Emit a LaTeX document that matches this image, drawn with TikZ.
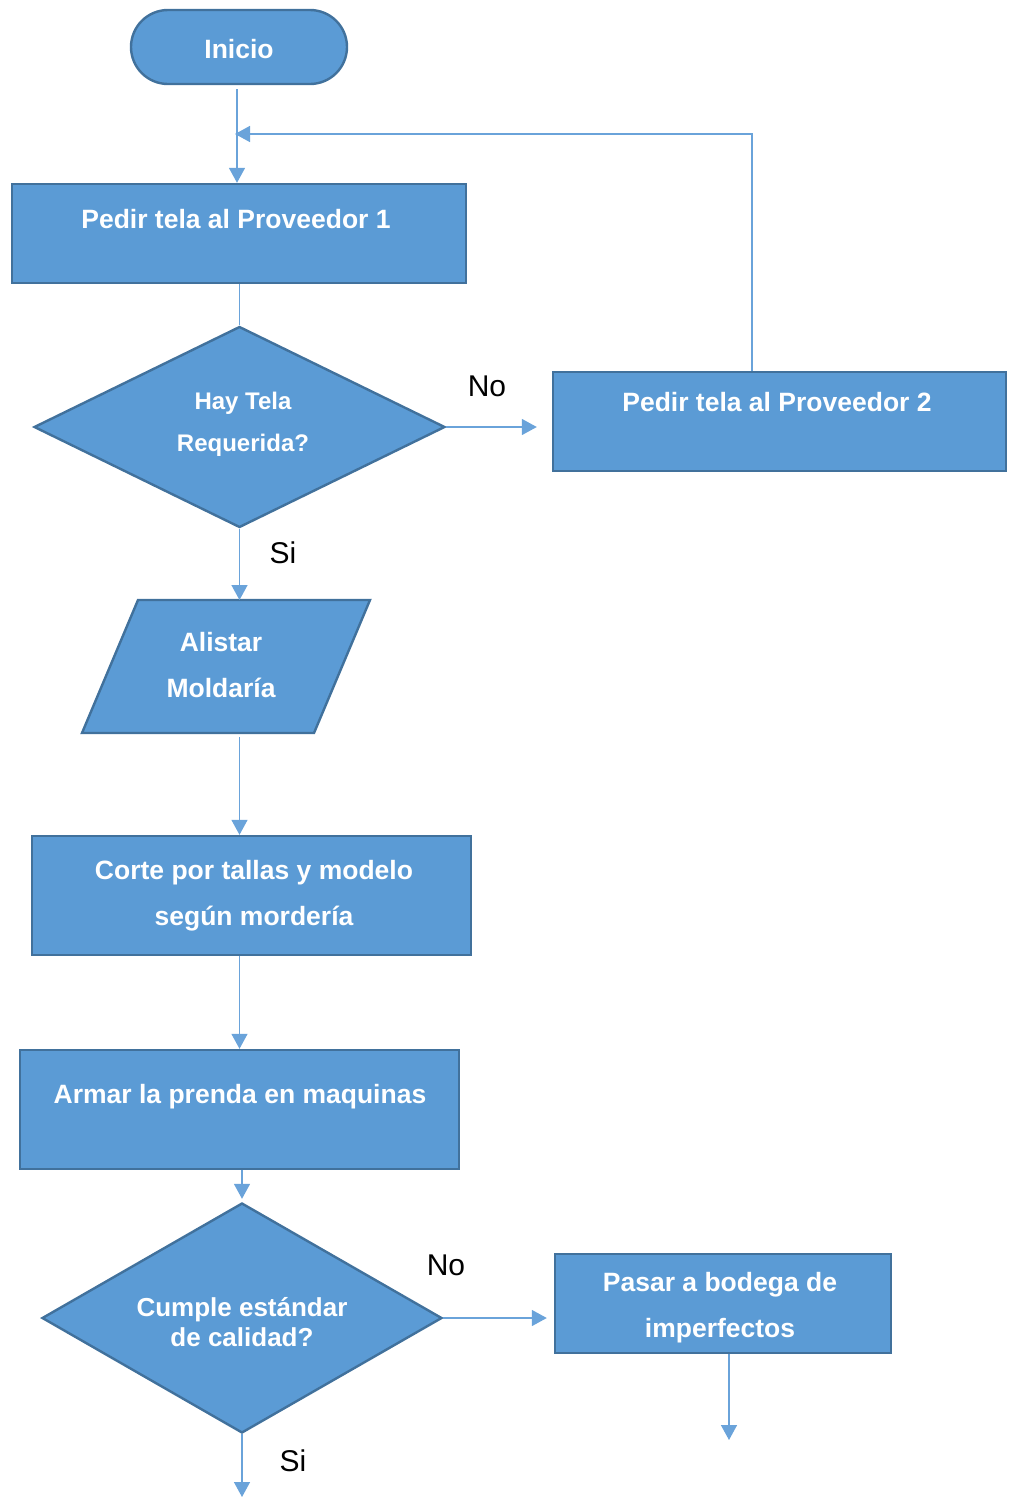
\documentclass[tikz,border=0pt]{standalone}
\usepackage{fontspec}
\setmainfont{Liberation Sans}
\usetikzlibrary{arrows.meta,shapes.geometric,positioning,calc}

\definecolor{fil}{RGB}{91,155,213}
\definecolor{bdr}{RGB}{65,113,156}
\definecolor{conn}{RGB}{106,163,218}

\begin{document}
\begin{tikzpicture}[x=1pt, y=-1pt,
    box/.style={draw=bdr, fill=fil, line width=2.4pt, inner sep=0pt},
    dec/.style={draw=bdr, fill=fil, line width=2.4pt, diamond, inner sep=0pt},
    txt/.style={text=white, align=center, font=\fontsize{26.5}{46}\selectfont\bfseries, inner sep=0pt},
    arr/.style={-{Triangle[length=15pt,width=16pt]}, draw=conn, line width=1.5pt},
    lin/.style={draw=conn, line width=1.5pt},
    lbl/.style={font=\fontsize{30}{30}\selectfont, inner sep=0pt}
]
\useasboundingbox (0,0) rectangle (1014,1497);

\node[box, rounded corners=37pt, minimum width=216pt, minimum height=74pt] (ini) at (239,47) {};
\node[txt] (init) at (239,49) {Inicio};
\node[box, minimum width=454pt, minimum height=99pt] (prov1) at (239,233.5) {};
\node[txt] (prov1t) at (236,219) {Pedir tela al Proveedor 1};
\node[dec, minimum width=411pt, minimum height=201pt] (dec1) at (239.5,427) {};
\node[txt, font=\fontsize{24}{42}\selectfont\bfseries] (dec1t) at (243,424) {Hay Tela\\Requerida?};
\node[box, minimum width=453pt, minimum height=99pt] (prov2) at (779.5,421.5) {};
\node[txt] (prov2t) at (777,402) {Pedir tela al Proveedor 2};
% paralelogramo
\draw[box] (138,600) -- (370,600) -- (314,733) -- (82,733) -- cycle;
\coordinate (alisn) at (226,600);
\coordinate (aliss) at (226,733);
\node[txt] (alis) at (221,665) {Alistar\\Moldaría};
\node[box, minimum width=439pt, minimum height=119pt] (corte) at (251.5,895.5) {};
\node[txt] (cortet) at (254,896) {Corte por tallas y modelo\\según mordería};
\node[box, minimum width=439pt, minimum height=119pt] (armar) at (239.5,1109.5) {};
\node[txt] (armart) at (240,1097) {Armar la prenda en maquinas};
\node[dec, minimum width=400pt, minimum height=230pt] (dec2) at (242,1318) {};
\node[txt, font=\fontsize{26}{30}\selectfont\bfseries] (dec2t) at (242,1322) {Cumple estándar\\de calidad?};
\node[box, minimum width=336pt, minimum height=99pt] (bod) at (723,1303.5) {};
\node[txt] (bodt) at (720,1308) {Pasar a bodega de\\imperfectos};

\node[lbl] (no1) at (487,386) {No};
\node[lbl] (si1) at (283,553) {Si};
\node[lbl] (no2) at (446,1265) {No};
\node[lbl] (si2) at (293,1461) {Si};

\coordinate (jn) at (235,134);
\coordinate (fin1) at (242,1497);
\coordinate (fin2) at (729,1440);

\draw[arr] ([yshift=-4pt]ini.south -| 237,0) -- (prov1.north -| 237,0);
\draw[arr] ([xshift=-27.5pt]prov2.north) |- (jn);
\draw[lin] (prov1.south -| dec1.north) -- (dec1.north);
\draw[arr, shorten >=15pt] (dec1.east) -- (dec1.east -| prov2.west);
\draw[arr] (dec1.south) -- (dec1.south |- alisn);
\draw[arr] ([yshift=-4pt]dec1.south |- aliss) -- (dec1.south |- corte.north);
\draw[arr] (dec1.south |- corte.south) -- (dec1.south |- armar.north);
\draw[arr, shorten >=3pt] (dec2.north |- armar.south) -- (dec2.north);
\draw[arr, shorten >=7pt] (dec2.east) -- (dec2.east -| bod.west);
\draw[arr] (bod.south -| fin2) -- (fin2);
\draw[arr] (dec2.south) -- (fin1);
\end{tikzpicture}
\end{document}
